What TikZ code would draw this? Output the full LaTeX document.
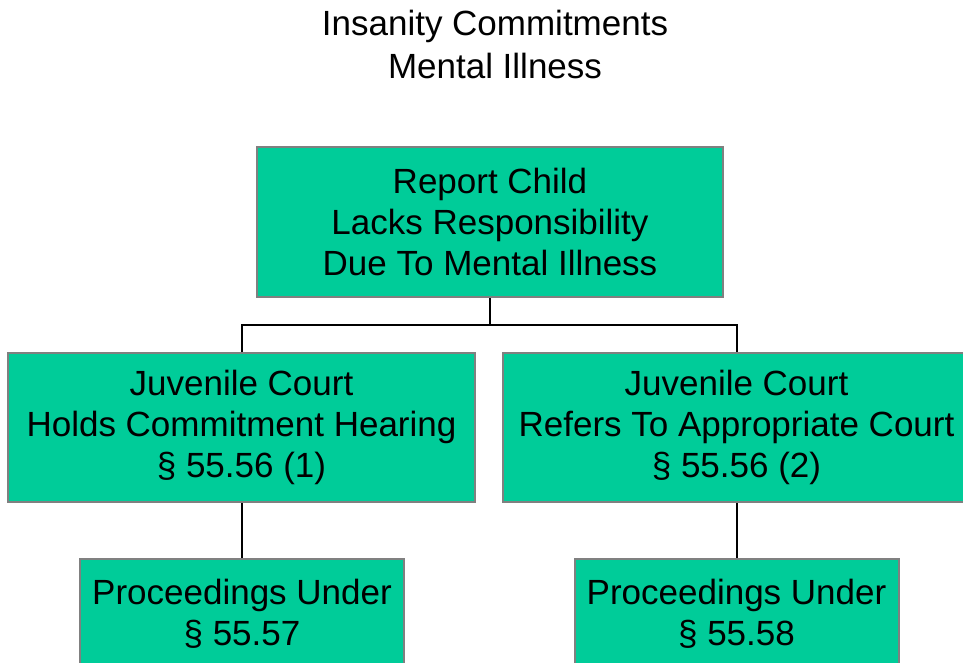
\documentclass[tikz,border=0pt]{standalone}
\usepackage{fontspec}
\setmainfont{Liberation Sans}
\definecolor{boxfill}{RGB}{0,204,153}
\definecolor{boxline}{RGB}{128,128,128}
\begin{document}
\begin{tikzpicture}[x=0.5pt,y=-0.5pt,
  box/.style={draw=boxline, line width=1pt, fill=boxfill, align=center, inner sep=0pt,
    font=\fontsize{17.5pt}{20.5pt}\selectfont},
  link/.style={draw=black, line width=1pt}]
\useasboundingbox (0,0) rectangle (963,663);
\node[align=center, font=\fontsize{17.5pt}{21.5pt}\selectfont] (title) at (495,44) {Insanity Commitments\\Mental Illness};
\node[box, minimum width=233pt, minimum height=75pt] (top) at (490,222) {Report Child\\Lacks Responsibility\\Due To Mental Illness};
\node[box, minimum width=233.5pt, minimum height=74.5pt] (left) at (241.5,427.5) {Juvenile Court\\Holds Commitment Hearing\\\S\ 55.56 (1)};
\node[box, minimum width=233.5pt, minimum height=74.5pt] (right) at (736.5,427.5) {Juvenile Court\\Refers To Appropriate Court\\\S\ 55.56 (2)};
\node[box, minimum width=162pt, minimum height=54.5pt] (bl) at (242,613.5) {Proceedings Under\\\S\ 55.57};
\node[box, minimum width=162pt, minimum height=54.5pt] (br) at (736.5,613.5) {Proceedings Under\\\S\ 55.58};
\coordinate (bus) at (490,325);
\draw[link] (top.south) -- (bus);
\draw[link] (bus) -| (left.north);
\draw[link] (bus) -| (right.north);
\draw[link] (left.south) -- (left.south |- bl.north);
\draw[link] (right.south) -- (right.south |- br.north);
\end{tikzpicture}
\end{document}
